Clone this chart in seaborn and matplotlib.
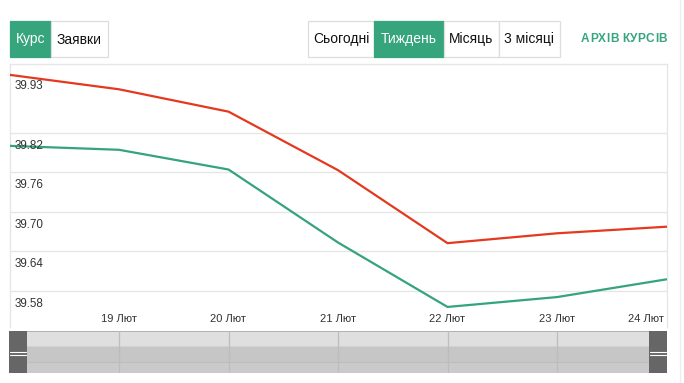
import matplotlib
matplotlib.use('Agg')
import matplotlib.pyplot as plt
import matplotlib.transforms as mtransforms
from matplotlib.patches import Rectangle
from matplotlib.lines import Line2D
from matplotlib import font_manager
from matplotlib.font_manager import FontProperties
import numpy as np
import pandas as pd
import seaborn as sns

# ---------------- data ----------------
days = [18, 19, 20, 21, 22, 23, 24]
day_labels = ['', '19 Лют', '20 Лют', '21 Лют', '22 Лют', '23 Лют', '24 Лют']
sell_rate = [39.908, 39.886, 39.852, 39.763, 39.652, 39.667, 39.677]
buy_rate = [39.800, 39.794, 39.764, 39.653, 39.555, 39.570, 39.597]
ytick_values = [39.58, 39.64, 39.70, 39.76, 39.82]
ytick_top_label = '39.93'
left_buttons = ['Курс', 'Заявки']
period_buttons = ['Сьогодні', 'Тиждень', 'Місяць', '3 місяці']
archive_label = 'АРХІВ КУРСІВ'
series_names = ['Продаж', 'Купівля']

df = pd.DataFrame({
    'day': days * 2,
    'value': sell_rate + buy_rate,
    'series': [series_names[0]] * len(days) + [series_names[1]] * len(days),
})

RED = '#e4391f'
GREEN = '#35a47c'
BTN_GREEN = '#36a57e'

sns.set_theme(style='white')

def has_font(name):
    try:
        font_manager.findfont(name, fallback_to_default=False)
        return True
    except Exception:
        return False

BASE = 'Liberation Sans' if has_font('Liberation Sans') else 'DejaVu Sans'
NARROW = 'Liberation Sans Narrow' if has_font('Liberation Sans Narrow') else BASE
plt.rcParams['font.family'] = [BASE, 'DejaVu Sans']

W, H = 684, 383
def fx(px):
    return px / W
def fy(py):
    return 1 - py / H

fig = plt.figure(figsize=(W / 100, H / 100), dpi=100)
fig.patch.set_facecolor('white')

# ---------------- main chart ----------------
ax = fig.add_axes([fx(9.5), fy(327), fx(666.5) - fx(9.5), fy(64.3) - fy(327)])
sns.lineplot(data=df, x='day', y='value', hue='series',
             palette={series_names[0]: RED, series_names[1]: GREEN},
             linewidth=1.6, legend=False, ax=ax, zorder=3)
ax.set_xlim(days[0], days[-1])
ax.set_ylim(39.5245, 39.924)
ax.set_yticks(ytick_values)
ax.set_xticks([])
ax.yaxis.grid(True, color='#e6e6e6', linewidth=1)
ax.tick_params(axis='both', length=0, labelleft=False, labelbottom=False)
ax.set_xlabel('')
ax.set_ylabel('')
for side in ['top', 'left', 'right']:
    ax.spines[side].set_color('#e6e6e6')
    ax.spines[side].set_linewidth(1)
ax.spines['bottom'].set_visible(False)

# y labels (drawn below their gridlines)
ylab_tr = mtransforms.blended_transform_factory(ax.transAxes, ax.transData) + \
    mtransforms.ScaledTranslation(5.5 / 100, -13 / 100, fig.dpi_scale_trans)
for v in ytick_values:
    ax.text(0, v, f'{v:.2f}', transform=ylab_tr, ha='left', va='center',
            fontsize=8.4, color='#333333', family=BASE)
top_tr = ax.transAxes + mtransforms.ScaledTranslation(5.5 / 100, -21.5 / 100, fig.dpi_scale_trans)
ax.text(0, 1, ytick_top_label, transform=top_tr, ha='left', va='center',
        fontsize=8.4, color='#333333', family=BASE)

# x labels inside plot bottom
xlab_y = (327 - 319) / (327 - 64.3)
xtr = mtransforms.blended_transform_factory(ax.transData, ax.transAxes)
for d, lab in zip(days, day_labels):
    if not lab:
        continue
    if d == days[-1]:
        ax.text(d, xlab_y, lab, transform=xtr + mtransforms.ScaledTranslation(-3 / 100, 0, fig.dpi_scale_trans),
                ha='right', va='center', fontsize=8, color='#333333', family=NARROW)
    else:
        ax.text(d, xlab_y, lab, transform=xtr, ha='center', va='center',
                fontsize=8, color='#333333', family=NARROW)

# ---------------- navigator ----------------
axn = fig.add_axes([fx(9), fy(373), fx(667) - fx(9), fy(330.5) - fy(373)])
axn.set_axis_off()
span = (666.5 - 9.5) / (days[-1] - days[0])
axn.set_xlim(days[0] - 0.5 / span, days[-1] + 0.5 / span)
axn.set_ylim(0, 1)
tot = 373 - 330.5
axn.add_patch(Rectangle((0, (373 - 346) / tot), 1, 1 - (373 - 346) / tot, transform=axn.transAxes,
                        facecolor='#dfdfdf', edgecolor='none'))
axn.add_patch(Rectangle((0, (373 - 362) / tot), 1, (362 - 346) / tot, transform=axn.transAxes,
                        facecolor='#c6c6c6', edgecolor='none'))
axn.add_patch(Rectangle((0, 0), 1, (373 - 362) / tot, transform=axn.transAxes,
                        facecolor='#cacaca', edgecolor='none'))
axn.axhline((373 - 346) / tot, color='#d2d2d2', lw=0.8)
axn.axhline((373 - 362) / tot, color='#bdbdbd', lw=0.8)
axn.axhline(1, color='#a8a8a8', lw=1.2)
for d in days[1:-1]:
    axn.axvline(d, color='#bdbdbd', lw=0.9)
hw = 18 / (667 - 9)
for x0 in [0, 1 - hw]:
    axn.add_patch(Rectangle((x0, 0), hw, 1, transform=axn.transAxes,
                            facecolor='#666666', edgecolor='none', zorder=5))
    for yy in [(373 - 352) / tot, (373 - 354.5) / tot]:
        axn.add_line(Line2D([x0 + 0.001, x0 + hw - 0.001], [yy, yy], transform=axn.transAxes,
                            color='white', lw=0.8, zorder=6))

# ---------------- buttons ----------------
def button(x0, x1, label, active):
    fig.add_artist(Rectangle((fx(x0), fy(56.7)), fx(x1) - fx(x0), fy(21.3) - fy(56.7),
                             transform=fig.transFigure,
                             facecolor=BTN_GREEN if active else 'white',
                             edgecolor=BTN_GREEN if active else '#dddddd', lw=0.9))
    fig.text(fx((x0 + x1) / 2), fy(39.5), label, ha='center', va='center',
             fontsize=10, color='white' if active else '#111111', family=NARROW)

left_edges = [9.6, 50.7, 107.6]
for i, lab in enumerate(left_buttons):
    button(left_edges[i], left_edges[i + 1], lab, i == 0)
period_edges = [308, 374, 444, 499, 560]
for i, lab in enumerate(period_buttons):
    button(period_edges[i], period_edges[i + 1], lab, i == 1)

# letter-spaced archive link
renderer = fig.canvas.get_renderer()
prop = FontProperties(family=BASE, weight='bold', size=8.6)
widths = []
for ch in archive_label:
    w, h, dsc = renderer.get_text_width_height_descent(ch if ch != ' ' else 'I', prop, ismath=False)
    widths.append(w * (0.75 if ch == ' ' else 1.0))
x_start, x_end = 581.0, 667.0
natural = sum(widths)
gap = (x_end - x_start - natural) / (len(archive_label) - 1)
xc = x_start
for ch, w in zip(archive_label, widths):
    if ch != ' ':
        fig.text(fx(xc), fy(38.5), ch, ha='left', va='center', fontproperties=prop, color=BTN_GREEN)
    xc += w + gap

fig.add_artist(Line2D([fx(680), fx(680)], [0, 1], transform=fig.transFigure, color='#ededed', lw=1))

fig.savefig('out.png', dpi=100, facecolor='white')
